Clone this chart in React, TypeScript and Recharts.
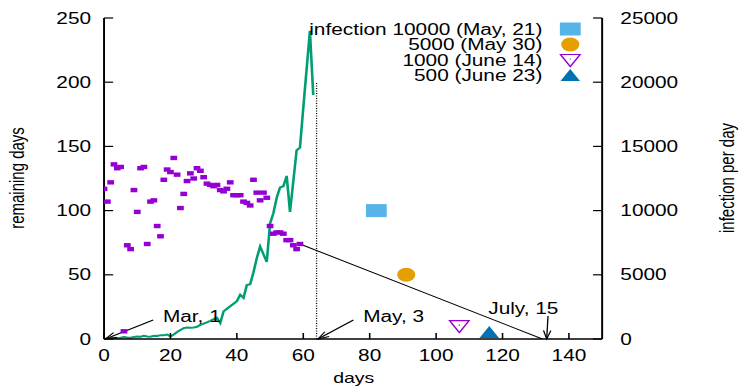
import React from 'react'
import { ComposedChart, XAxis, YAxis, Line, Scatter, ReferenceLine } from 'recharts'

// remaining days estimate, one value per day starting Mar 1 (day 0)
const remainingDays = [
  117, 107, 122, 136, 133, 134, 6, 73, 70, 116, 99, 133, 134, 74, 107, 108, 88, 80, 124, 132,
  130, 141, 128, 102, 113, 123, 129, 125, 133, 131, 126, 121, 120, 119, 120, 116, 115, 117, 122, 112,
  112, 112, 107, 106, 104, 124, 114, 108, 114, 110, 88, 82, 83, 83, 82, 77, 77, 73, 70, 74,
]

// new infections per day (right axis)
const infectionPerDay = [
  0, 50, 80, 100, 80, 100, 150, 120, 100, 150, 200, 180, 250, 200, 180, 250, 230, 300, 300, 350,
  200, 350, 550, 700, 850, 900, 880, 900, 950, 1100, 1200, 1300, 1420, 1550, 1650, 1250, 2150, 2350, 2550, 2750,
  2950, 3450, 3200, 4200, 4270, 5200, 6300, 7200, 6600, 6000, 9000, 9800, 11000, 11800, 11900, 12700, 9900, 12300, 14700, 14900,
  18000, 21000, 24000, 19000,
]

// linear projection of the remaining days down to zero
const projection = [
  { x: 59, y: 74 },
  { x: 132, y: 0 },
]
const todayDay = 64
const todayLine = [
  { x: todayDay, y: 0 },
  { x: todayDay, y: 200 },
]

// predicted days for the infection thresholds
const thresholdLabels = ['infection 10000 (May, 21)', '5000 (May 30)', '1000 (June 14)', '500 (June 23)']
const thresholdDays = [82, 91, 107, 116]
const thresholdValues = [10000, 5000, 1000, 500]
const thresholdColors = ['#56b4e9', '#e69f00', '#9400d3', '#0072b2']

const xTicks = [0, 20, 40, 60, 80, 100, 120, 140]
const leftTicks = [0, 50, 100, 150, 200, 250]
const rightTicks = [0, 5000, 10000, 15000, 20000, 25000]

const remainingRows = remainingDays.map((y, i) => ({ x: i, y }))
const infectionRows = infectionPerDay.map((y, i) => ({ x: i, y }))

const FONT = '"Liberation Sans", Arial, sans-serif'
const W = 569
const H = 389
const STRETCH = 740 / W

const BottomTick = ({ x, y, payload }: any) => (
  <g>
    <line x1={x} x2={x} y1={y} y2={y - 6} stroke="#000" strokeWidth={1.2} />
    <text x={x} y={y + 16} textAnchor="middle" dominantBaseline="central" fontSize={16} fontFamily={FONT} fill="#000">
      {payload.value}
    </text>
  </g>
)
const TopTick = ({ x, y }: any) => <line x1={x} x2={x} y1={y} y2={y + 6} stroke="#000" strokeWidth={1.2} />
const LeftTick = ({ x, y, payload }: any) => (
  <g>
    <line x1={x} x2={x + 7} y1={y} y2={y} stroke="#000" strokeWidth={1.2} />
    <text x={x - 10} y={y} textAnchor="end" dominantBaseline="central" fontSize={16} fontFamily={FONT} fill="#000">
      {payload.value}
    </text>
  </g>
)
const RightTick = ({ x, y, payload }: any) => (
  <g>
    <line x1={x} x2={x - 7} y1={y} y2={y} stroke="#000" strokeWidth={1.2} />
    <text x={x + 14} y={y} textAnchor="start" dominantBaseline="central" fontSize={16} fontFamily={FONT} fill="#000">
      {payload.value}
    </text>
  </g>
)

const Marker = ({ kind, cx, cy, color }: any) => {
  if (kind === 0) return <rect x={cx - 8} y={cy - 6.5} width={16} height={13} fill={color} />
  if (kind === 1) return <circle cx={cx} cy={cy} r={7} fill={color} />
  if (kind === 2)
    return (
      <g>
        <polygon points={`${cx - 7.5},${cy - 5.5} ${cx + 7.5},${cy - 5.5} ${cx},${cy + 6.5}`} fill="none" stroke={color} strokeWidth={1.2} />
        <circle cx={cx} cy={cy - 1} r={0.6} fill={color} />
      </g>
    )
  return <polygon points={`${cx - 7.5},${cy + 5.5} ${cx + 7.5},${cy + 5.5} ${cx},${cy - 6.5}`} fill={color} />
}

const Arrow = ({ x1, y1, x2, y2, text, dx, dy, anchor }: any) => {
  const ang = Math.atan2(y2 - y1, x2 - x1)
  const L = 9
  const a = 0.32
  const p1 = `${x2 - L * Math.cos(ang - a)},${y2 - L * Math.sin(ang - a)}`
  const p2 = `${x2 - L * Math.cos(ang + a)},${y2 - L * Math.sin(ang + a)}`
  return (
    <g>
      <line x1={x1} y1={y1} x2={x2} y2={y2} stroke="#000" strokeWidth={1} />
      <polyline points={`${p1} ${x2},${y2} ${p2}`} fill="none" stroke="#000" strokeWidth={1} />
      <text x={x1 + dx} y={y1 + dy} textAnchor={anchor} dominantBaseline="central" fontSize={16} fontFamily={FONT} fill="#000">
        {text}
      </text>
    </g>
  )
}

const notes = [
  { text: 'Mar, 1', from: { x: 14.8, y: 14.8 }, to: { x: 0.4, y: 0 }, dx: 7.5, dy: -4, anchor: 'start' },
  { text: 'May, 3', from: { x: 75.1, y: 14.8 }, to: { x: 64.4, y: 0 }, dx: 7.5, dy: -4, anchor: 'start' },
  { text: 'July, 15', from: { x: 133.7, y: 17.9 }, to: { x: 133.3, y: 0 }, dx: -19, dy: -8, anchor: 'middle' },
]

export default function App() {
  const legendY = [29, 44.5, 60, 75.5]
  return (
    <div style={{ position: 'absolute', left: 0, top: 0, width: W, height: H, transform: `scaleX(${STRETCH})`, transformOrigin: '0 0', background: '#fff' }}>
      <ComposedChart width={W} height={H} margin={{ top: 18, right: 0, bottom: 0, left: 0 }}>
        <XAxis
          xAxisId="b"
          dataKey="x"
          type="number"
          domain={[0, 150]}
          ticks={xTicks}
          height={50}
          tickSize={0}
          tickMargin={0}
          tickLine={false}
          tick={<BottomTick />}
          axisLine={{ stroke: '#000', strokeWidth: 1.5 }}
          allowDataOverflow
        />
        <XAxis
          xAxisId="t"
          orientation="top"
          dataKey="x"
          type="number"
          domain={[0, 150]}
          ticks={xTicks}
          height={0}
          tickSize={0}
          tickMargin={0}
          tickLine={false}
          tick={<TopTick />}
          axisLine={{ stroke: '#000', strokeWidth: 1.5 }}
        />
        <YAxis
          yAxisId="left"
          dataKey="y"
          type="number"
          domain={[0, 250]}
          ticks={leftTicks}
          width={80}
          tickSize={0}
          tickMargin={0}
          tickLine={false}
          tick={<LeftTick />}
          axisLine={{ stroke: '#000', strokeWidth: 1.5 }}
          allowDataOverflow
        />
        <YAxis
          yAxisId="right"
          orientation="right"
          dataKey="y"
          type="number"
          domain={[0, 25000]}
          ticks={rightTicks}
          width={106}
          tickSize={0}
          tickMargin={0}
          tickLine={false}
          tick={<RightTick />}
          axisLine={{ stroke: '#000', strokeWidth: 1.5 }}
          allowDataOverflow
        />

        <Line xAxisId="b" yAxisId="left" data={todayLine} dataKey="y" stroke="#000" strokeWidth={1} strokeDasharray="1 1.5" dot={false} isAnimationActive={false} />
        <Line xAxisId="b" yAxisId="left" data={projection} dataKey="y" stroke="#000" strokeWidth={1} dot={false} isAnimationActive={false} />
        <Scatter
          xAxisId="b"
          yAxisId="left"
          data={remainingRows}
          dataKey="y"
          isAnimationActive={false}
          shape={(p: any) => <rect x={p.cx - 2.6} y={p.cy - 2.2} width={5.2} height={4.4} fill="#9400d3" />}
        />
        <Line xAxisId="b" yAxisId="right" data={infectionRows} dataKey="y" stroke="#009e73" strokeWidth={2} dot={false} isAnimationActive={false} />

        {thresholdDays.map((d, i) => (
          <Scatter
            key={i}
            xAxisId="b"
            yAxisId="right"
            data={[{ x: d, y: thresholdValues[i] }]}
            dataKey="y"
            isAnimationActive={false}
            shape={(p: any) => <Marker kind={i} cx={p.cx} cy={p.cy} color={thresholdColors[i]} />}
          />
        ))}

        {notes.map((n) => (
          <ReferenceLine
            key={n.text}
            xAxisId="b"
            yAxisId="left"
            segment={[n.from, n.to]}
            ifOverflow="visible"
            shape={(p: any) => <Arrow {...p} text={n.text} dx={n.dx} dy={n.dy} anchor={n.anchor} />}
          />
        ))}
      </ComposedChart>

      <svg width={W} height={H} style={{ position: 'absolute', left: 0, top: 0, pointerEvents: 'none' }}>
        <text x={13} y={178} transform="rotate(-90 13 178)" textAnchor="middle" dominantBaseline="central" fontSize={15} fontFamily={FONT}>
          remaining days
        </text>
        <text x={559} y={178} transform="rotate(-90 559 178)" textAnchor="middle" dominantBaseline="central" fontSize={15} fontFamily={FONT}>
          infection per day
        </text>
        <text x={272} y={378} textAnchor="middle" dominantBaseline="central" fontSize={15} fontFamily={FONT}>
          days
        </text>
        {thresholdLabels.map((label, i) => (
          <g key={label}>
            <text x={417} y={legendY[i]} textAnchor="end" dominantBaseline="central" fontSize={16} fontFamily={FONT}>
              {label}
            </text>
            <Marker kind={i} cx={438.5} cy={legendY[i]} color={thresholdColors[i]} />
          </g>
        ))}
      </svg>
    </div>
  )
}
